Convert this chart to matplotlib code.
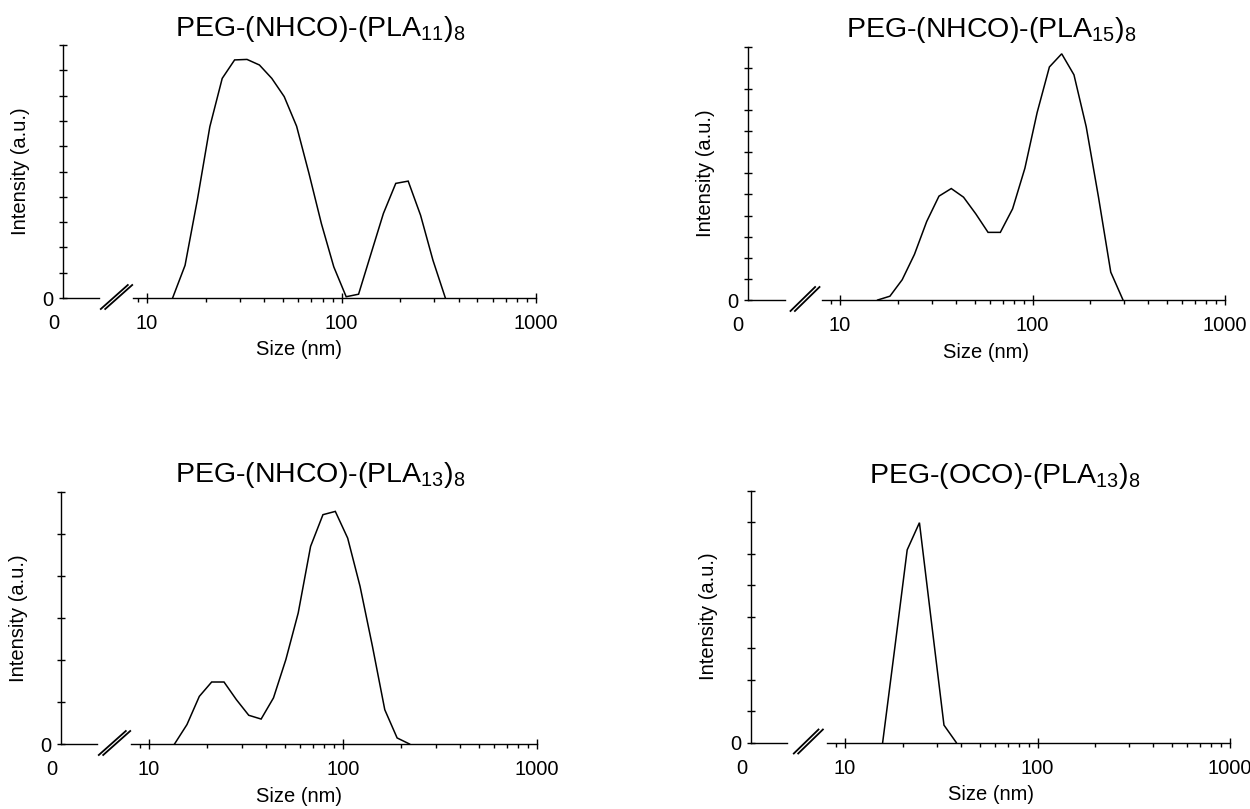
import numpy as np
import matplotlib
matplotlib.use("Agg")
import matplotlib.pyplot as plt
from matplotlib.lines import Line2D
from matplotlib.ticker import NullFormatter

plt.rcParams["font.family"] = ["Liberation Sans", "DejaVu Sans"]
plt.rcParams["mathtext.fontset"] = "custom"
plt.rcParams["mathtext.rm"] = "Liberation Sans"
plt.rcParams["mathtext.it"] = "Liberation Sans:italic"
plt.rcParams["mathtext.bf"] = "Liberation Sans:bold"

# ---------------- data: DLS intensity distributions (size bins in nm) ----------------
size_nhco_pla11 = [13.54, 15.69, 18.17, 21.04, 24.36, 28.21, 32.67, 37.84, 43.82, 50.75,
                   58.77, 68.06, 78.82, 91.28, 105.7, 122.4, 141.8, 164.2, 190.1, 220.2,
                   255.0, 295.3, 342.0]
int_nhco_pla11 = [0, 12.9, 39, 67.7, 86.8, 94.1, 94.3, 92.1, 86.8, 79.6,
                  67.9, 49.2, 29.4, 12.3, 0.5, 1.5, 17.5, 33.4, 45.3, 46.2,
                  32.7, 14.9, 0]

size_nhco_pla15 = [15.69, 18.17, 21.04, 24.36, 28.21, 32.67, 37.84, 43.82, 50.75, 58.77,
                   68.06, 78.82, 91.28, 105.7, 122.4, 141.8, 164.2, 190.1, 220.2, 255.0,
                   295.3]
int_nhco_pla15 = [0, 1.5, 8, 18, 31, 41, 44, 40.6, 34, 26.7,
                  26.7, 36, 52, 74, 92, 97.2, 88.9, 68.4, 40.6, 11,
                  0]

size_nhco_pla13 = [13.54, 15.69, 18.17, 21.04, 24.36, 28.21, 32.67, 37.84, 43.82, 50.75,
                   58.77, 68.06, 78.82, 91.28, 105.7, 122.4, 141.8, 164.2, 190.1, 220.2]
int_nhco_pla13 = [0, 7.7, 18.9, 24.6, 24.6, 17.6, 11.4, 9.9, 18.3, 33.5,
                  52, 78.4, 91, 92.3, 81.7, 62.6, 38.8, 13.6, 2.4, 0]

size_oco_pla13 = [15.69, 18.17, 21.04, 24.36, 28.21, 32.67, 37.84]
int_oco_pla13 = [0, 38, 76.5, 87.3, 47, 6.9, 0]

titles = [r"PEG-(NHCO)-(PLA$_{11}$)$_8$",
          r"PEG-(NHCO)-(PLA$_{15}$)$_8$",
          r"PEG-(NHCO)-(PLA$_{13}$)$_8$",
          r"PEG-(OCO)-(PLA$_{13}$)$_8$"]
sizes = [size_nhco_pla11, size_nhco_pla15, size_nhco_pla13, size_oco_pla13]
intensities = [int_nhco_pla11, int_nhco_pla15, int_nhco_pla13, int_oco_pla13]
y_divisions = [10, 12, 6, 8]

major_ticks = [10, 100, 1000]
major_labels = ["10", "100", "1000"]
minor_ticks = [9, 20, 30, 40, 50, 60, 70, 80, 90, 200, 300, 400, 500, 600, 700, 800, 900]
zero_label = "0"
x_label = "Size (nm)"
y_label = "Intensity (a.u.)"

# ---------------- layout (figure pixels) ----------------
W, H = 1250, 809
layout = [
    dict(yx=63.0, x10=147.0, x1000=536.0, base=298.0, top=45.0,
         seg_end=99.0, brk=(103.0, 130.0), seg_start=133.0, tx=320, ty=36),
    dict(yx=747.7, x10=840.0, x1000=1225.0, base=300.0, top=46.7,
         seg_end=785.0, brk=(792.7, 817.3), seg_start=821.7, tx=991, ty=37),
    dict(yx=61.0, x10=149.0, x1000=537.0, base=744.0, top=492.0,
         seg_end=97.0, brk=(101.0, 128.0), seg_start=131.0, tx=320, ty=482),
    dict(yx=751.0, x10=845.0, x1000=1230.0, base=742.5, top=490.7,
         seg_end=786.7, brk=(796.0, 820.7), seg_start=826.7, tx=1005, ty=483),
]

LW_AX = 1.0
LW_CURVE = 1.1
TICK_FS = 14.5
LABEL_FS = 14.5
TITLE_FS = 20.5
PT_PER_PX = 72.0 / 100.0
XMAJ_LEN = 6.5
YTICK_LEN = 5.8
XLABEL_GAP_PX = 16.0


def fx(px):
    return px / W


def fy(py):
    return 1.0 - py / H


fig = plt.figure(figsize=(W / 100, H / 100), dpi=100, facecolor="white")

for spec, title, xs, ys, ndiv in zip(layout, titles, sizes, intensities, y_divisions):
    yx, x10, x1000 = spec["yx"], spec["x10"], spec["x1000"]
    base, top = spec["base"], spec["top"]
    wpx, hpx = x1000 - yx, base - top
    ax = fig.add_axes([fx(yx), fy(base), wpx / W, hpx / H])
    ax.set_facecolor("none")
    ax.set_xscale("log")
    decade = (x1000 - x10) / 2.0
    ax.set_xlim(10 ** (1 - (x10 - yx) / decade), 1000)
    ax.set_ylim(0, 100)

    ax.plot(xs, ys, color="black", lw=LW_CURVE, solid_joinstyle="miter", clip_on=False)

    for side in ("top", "right", "bottom"):
        ax.spines[side].set_visible(False)
    ax.spines["left"].set_linewidth(LW_AX)

    # broken x axis: short piece at the origin, the "//" marks, then the log axis
    def axf(px):
        return (px - yx) / wpx

    ax.add_line(Line2D([0, axf(spec["seg_end"])], [0, 0], transform=ax.transAxes,
                       color="black", lw=LW_AX, clip_on=False))
    ax.add_line(Line2D([axf(spec["seg_start"]), 1], [0, 0], transform=ax.transAxes,
                       color="black", lw=LW_AX, clip_on=False))
    b0, b1 = spec["brk"]
    for d in (-2.2, 2.2):
        ax.add_line(Line2D([axf(b0 + d), axf(b1 + d)], [-11.0 / hpx, 13.0 / hpx],
                           transform=ax.transAxes, color="black", lw=1.3,
                           clip_on=False))

    ax.set_xticks(major_ticks)
    ax.set_xticklabels(major_labels)
    ax.set_xticks(minor_ticks, minor=True)
    ax.xaxis.set_minor_formatter(NullFormatter())
    xpad = XLABEL_GAP_PX * PT_PER_PX - XMAJ_LEN / 2
    ax.tick_params(axis="x", which="major", direction="inout", length=XMAJ_LEN,
                   width=LW_AX, pad=xpad, labelsize=TICK_FS)
    ax.tick_params(axis="x", which="minor", direction="out", length=3.0, width=LW_AX)

    ax.set_yticks(np.linspace(0, 100, ndiv + 1))
    ax.set_yticklabels([zero_label] + [""] * ndiv)
    ax.tick_params(axis="y", which="major", direction="inout", length=YTICK_LEN,
                   width=LW_AX, pad=4.0, labelsize=TICK_FS)
    ax.tick_params(axis="y", which="minor", left=False)

    # "0" under the origin of the broken axis
    fig.text(fx(yx - 9.5), fy(base + XLABEL_GAP_PX), zero_label, ha="center", va="top",
             fontsize=TICK_FS)

    fig.text(fx(yx + wpx / 2), fy(base + 52), x_label, ha="center", va="center",
             fontsize=LABEL_FS)
    fig.text(fx(yx - 42), fy(top + hpx / 2), y_label, ha="center", va="center",
             rotation=90, fontsize=LABEL_FS)
    fig.text(fx(spec["tx"]), fy(spec["ty"]), title, ha="center", va="baseline",
             fontsize=TITLE_FS)

fig.savefig("out.png", dpi=100, facecolor="white")
